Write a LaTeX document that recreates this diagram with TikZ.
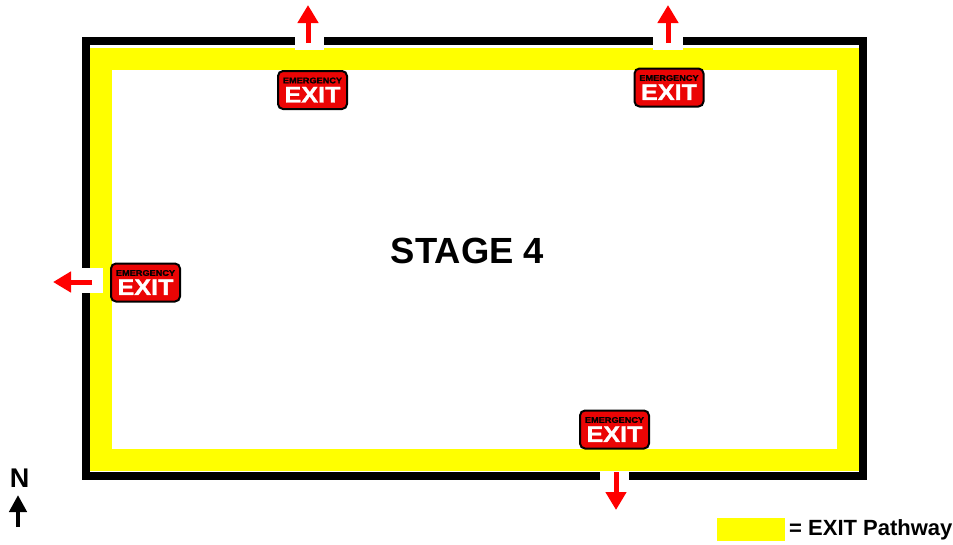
\documentclass[tikz,border=0pt]{standalone}
\usepackage{fontspec}
\setmainfont{Liberation Sans}
\newfontfamily\signfont{Liberation Sans}[BoldFeatures={FakeStretch=1.12,FakeBold=1.2}]
\usetikzlibrary{arrows.meta}
\definecolor{signred}{RGB}{235,5,5}
\definecolor{pathyellow}{RGB}{255,255,0}
\definecolor{arrowred}{RGB}{255,0,0}
\tikzset{
  exitarrow/.style={arrowred,line width=5pt,-{Triangle[length=18pt,width=20pt]}},
  northarrow/.style={black,line width=4.5pt,-{Triangle[length=17pt,width=17pt]}},
  gapbox/.style={fill=white,inner sep=0pt},
  exitsign/.style={draw=black,line width=2pt,fill=signred,rounded corners=5pt,
    minimum width=69pt,minimum height=38pt,inner sep=0pt,align=center},
  label/.style={font=\bfseries,inner sep=0pt}
}
\newcommand{\exittext}{{\signfont\fontsize{8.2}{7}\selectfont\bfseries\textcolor{black}{EMERGENCY}}\\[2.5pt]
  {\signfont\fontsize{22.5}{19}\selectfont\bfseries\textcolor{white}{EXIT}}}
\begin{document}
\begin{tikzpicture}[x=1pt,y=-1pt]
  \useasboundingbox[fill=white] (0,0) rectangle (953,544);
  % walls and pathway
  \draw[line width=8pt] (86,40.5) rectangle (862.5,476);
  \draw[pathyellow,line width=22pt] (101,59) rectangle (847.5,460);
  % doors
  \node[gapbox,minimum width=29pt,minimum height=14pt] (dooranorth) at (309.5,42.5){};
  \node[gapbox,minimum width=30pt,minimum height=14pt] (doorbnorth) at (668,42.5){};
  \node[gapbox,minimum width=22pt,minimum height=25pt] (doorwest) at (92,280.5){};
  \node[gapbox,minimum width=29pt,minimum height=9pt] (doorsouth) at (614.5,476.5){};
  % signs
  \foreach \nm/\xx/\yy in {signa/312.5/90,signb/669/87.5,signc/145.5/282.5,signd/614.5/429.5}{
    \node[exitsign] (\nm) at (\xx,\yy){\exittext};
  }
  % arrows out
  \coordinate (aout) at (308,5);
  \coordinate (bout) at (668,5);
  \coordinate (cout) at (53,282);
  \coordinate (dout) at (616,510);
  \draw[exitarrow] (308,43) -- (aout);
  \draw[exitarrow] (668,43) -- (bout);
  \draw[exitarrow] (92,282) -- (cout);
  \draw[exitarrow] (616,472) -- (dout);
  % texts
  \node[label,font=\fontsize{36.4}{36}\selectfont\bfseries] (stage) at (467.5,251){STAGE 4};
  \node[label,font=\fontsize{27}{27}\selectfont\bfseries] (north) at (19.5,478){N};
  \coordinate (ntip) at (18,495);
  \draw[northarrow] (18,527) -- (ntip);
  % legend
  \node[fill=pathyellow,minimum width=68pt,minimum height=23pt,inner sep=0pt] (legend) at (751,529.5){};
  \node[label,font=\fontsize{22}{22}\selectfont\bfseries,anchor=west] (legendtext) at (789,530){= EXIT Pathway};
\end{tikzpicture}
\end{document}
